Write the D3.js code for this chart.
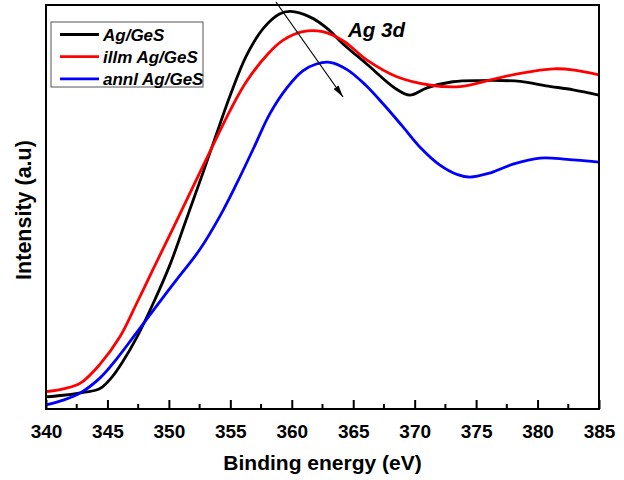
<!DOCTYPE html>
<html>
<head>
<meta charset="utf-8">
<script src="https://cdn.jsdelivr.net/npm/d3@7"></script>
<style>
  body { margin: 0; background: #fff; }
  text { font-family: "Liberation Sans", Arial, sans-serif; }
</style>
</head>
<body>
<div id="chart"></div>
<script>
// Data (intensity in arbitrary units)
var seriesNames = ["Ag/GeS", "illm Ag/GeS", "annl Ag/GeS"];
var seriesColors = ["#000000", "#ff0000", "#0000ff"];

var agGeS = [
  [340.0, 3.0], [341.4, 3.4], [342.8, 4.0], [344.1, 4.7], [344.6, 5.5],
  [345.4, 8.0], [346.2, 11.5], [347.4, 17.8], [348.7, 26.0], [350.1, 35.8],
  [351.4, 46.8], [352.8, 58.7], [353.9, 68.3], [355.0, 77.7], [356.3, 87.4],
  [357.7, 94.3], [359.0, 97.8], [359.9, 98.4], [361.5, 97.0], [362.8, 94.4],
  [364.2, 90.3], [366.1, 85.4], [368.5, 79.2], [369.6, 77.7], [371.0, 79.5],
  [373.1, 81.0], [375.3, 81.3], [378.6, 81.1], [380.7, 80.0], [382.9, 79.0],
  [385.0, 77.7]
];

var illmAgGeS = [
  [340.0, 4.3], [341.4, 5.0], [342.8, 6.4], [344.4, 11.1], [346.0, 17.8],
  [347.4, 26.3], [348.7, 34.5], [350.6, 46.4], [352.8, 60.3], [355.0, 74.0],
  [356.3, 81.0], [358.0, 87.7], [359.3, 91.3], [360.9, 93.4], [362.5, 93.4],
  [364.2, 91.1], [366.1, 86.4], [368.5, 82.3], [371.2, 80.2], [373.7, 79.8],
  [376.1, 81.4], [378.6, 83.1], [381.3, 84.2], [383.0, 83.9], [385.0, 82.7]
];

var annlAgGeS = [
  [340.0, 1.0], [341.4, 2.2], [342.8, 4.0], [344.4, 7.7], [345.8, 12.6],
  [347.1, 17.8], [348.7, 24.3], [350.6, 31.9], [352.5, 39.4], [354.2, 48.0],
  [355.5, 55.7], [356.9, 64.6], [358.2, 73.0], [359.6, 79.5], [360.9, 83.7],
  [362.0, 85.4], [363.1, 85.8], [364.5, 84.0], [366.0, 80.2], [367.5, 75.3],
  [369.0, 70.0], [370.5, 64.6], [372.0, 60.5], [373.5, 58.0], [374.5, 57.4],
  [376.0, 58.3], [378.0, 60.6], [380.2, 62.1], [382.4, 61.8], [385.0, 61.1]
];

var allSeries = [agGeS, illmAgGeS, annlAgGeS];
var xTicks = [340, 345, 350, 355, 360, 365, 370, 375, 380, 385];

// Set up chart
var svgWidth = 624;
var svgHeight = 480;
var margin = { top: 5, right: 25, bottom: 71, left: 46 };
var width = svgWidth - margin.left - margin.right;
var height = svgHeight - margin.top - margin.bottom;

var svg = d3.select("#chart")
  .append("svg")
  .attr("width", svgWidth)
  .attr("height", svgHeight);

var chartGroup = svg.append("g")
  .attr("transform", `translate(${margin.left}, ${margin.top})`);

var xScale = d3.scaleLinear().domain([340, 385]).range([0, width]);
var yScale = d3.scaleLinear().domain([0, 100]).range([height, 0]);

// Bottom axis, ticks pointing inward
var bottomAxis = d3.axisBottom(xScale)
  .tickValues(xTicks)
  .tickSize(-9)
  .tickPadding(16);

var xAxis = chartGroup.append("g")
  .attr("transform", `translate(0, ${height})`)
  .call(bottomAxis);
xAxis.select(".domain").remove();
xAxis.selectAll("line").attr("stroke", "#000").attr("stroke-width", 2);
xAxis.selectAll("text")
  .attr("fill", "#000")
  .style("font-size", "19px")
  .style("font-weight", "bold");

// Minor ticks
var minorTicks = d3.range(342.5, 385, 5);
chartGroup.append("g")
  .selectAll("line")
  .data(minorTicks)
  .enter()
  .append("line")
  .attr("x1", d => xScale(d))
  .attr("x2", d => xScale(d))
  .attr("y1", height)
  .attr("y2", height - 5)
  .attr("stroke", "#000")
  .attr("stroke-width", 2);

// Curves
var line = d3.line()
  .x(d => xScale(d[0]))
  .y(d => yScale(d[1]))
  .curve(d3.curveCatmullRom.alpha(0.5));

chartGroup.selectAll(".series")
  .data(allSeries)
  .enter()
  .append("path")
  .attr("class", "series")
  .attr("d", d => line(d))
  .attr("fill", "none")
  .attr("stroke", (d, i) => seriesColors[i])
  .attr("stroke-width", 2.8)
  .attr("stroke-linejoin", "round");

// Frame
chartGroup.append("rect")
  .attr("x", 0)
  .attr("y", 0)
  .attr("width", width)
  .attr("height", height)
  .attr("fill", "none")
  .attr("stroke", "#000")
  .attr("stroke-width", 2);

// Arrow annotation
svg.append("defs").append("marker")
  .attr("id", "arrowhead")
  .attr("viewBox", "0 0 12 6")
  .attr("refX", 12)
  .attr("refY", 3)
  .attr("markerWidth", 12)
  .attr("markerHeight", 6)
  .attr("markerUnits", "userSpaceOnUse")
  .attr("orient", "auto")
  .append("path")
  .attr("d", "M0,0 L12,3 L0,6 Z")
  .attr("fill", "#000");

svg.append("line")
  .attr("x1", 276)
  .attr("y1", 2)
  .attr("x2", 343)
  .attr("y2", 97)
  .attr("stroke", "#000")
  .attr("stroke-width", 1.2)
  .attr("marker-end", "url(#arrowhead)");

svg.append("text")
  .attr("x", 348)
  .attr("y", 37)
  .style("font-size", "20.5px")
  .style("font-weight", "bold")
  .style("font-style", "italic")
  .text("Ag 3d");

// Legend
var legend = svg.append("g").attr("transform", "translate(51, 22)");
legend.append("rect")
  .attr("width", 152)
  .attr("height", 65)
  .attr("fill", "#fff")
  .attr("stroke", "#555")
  .attr("stroke-width", 1);

var legendItems = legend.selectAll(".item")
  .data(seriesNames)
  .enter()
  .append("g")
  .attr("class", "item")
  .attr("transform", (d, i) => `translate(0, ${12.5 + i * 22.2})`);

legendItems.append("line")
  .attr("x1", 9)
  .attr("x2", 48)
  .attr("stroke", (d, i) => seriesColors[i])
  .attr("stroke-width", 2.8);

legendItems.append("text")
  .attr("x", 52)
  .attr("y", 6)
  .style("font-size", "17px")
  .style("font-weight", "bold")
  .style("font-style", "italic")
  .text(d => d);

// Axis labels
svg.append("text")
  .attr("transform", "translate(31, 210) rotate(-90)")
  .style("text-anchor", "middle")
  .style("font-size", "21.5px")
  .style("font-weight", "bold")
  .text("Intensity (a.u)");

svg.append("text")
  .attr("x", margin.left + width / 2)
  .attr("y", 470)
  .style("text-anchor", "middle")
  .style("font-size", "21px")
  .style("font-weight", "bold")
  .text("Binding energy (eV)");
</script>
</body>
</html>
